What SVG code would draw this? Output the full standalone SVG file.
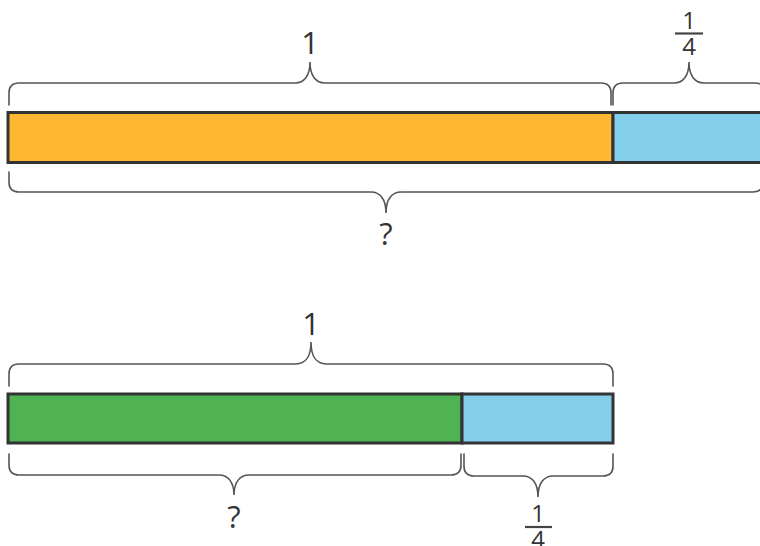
<svg xmlns="http://www.w3.org/2000/svg" width="760" height="546" viewBox="0 0 760 546">
<style>
.bar{stroke:#333;stroke-width:3}
.brace{fill:none;stroke:#555;stroke-width:1.6;stroke-linecap:round}
.t{font-family:"Open Sans","Noto Sans",sans-serif;fill:#333;text-anchor:middle}
.big{font-size:31px}
.frac{font-size:24px}
.fl{stroke:#444;stroke-width:2.2}
</style>
<rect width="760" height="546" fill="#fff"/>
<g id="bar1">
<rect id="bar1-orange" class="bar" x="8" y="112.5" width="605" height="50" fill="#FDB733"/>
<rect id="bar1-blue" class="bar" x="613" y="112.5" width="160" height="50" fill="#83CFEB"/>
</g>
<g id="bar2">
<rect id="bar2-green" class="bar" x="8" y="394" width="454" height="49" fill="#4FB253"/>
<rect id="bar2-blue" class="bar" x="462" y="394" width="151" height="49" fill="#83CFEB"/>
</g>
<g id="braces">
<path class="brace" d="M9,105 L9,93 Q9,83 19,83 L295,83 C304,83 310,76 310,62 C310,76 316,83 325,83 L601,83 Q611,83 611,93 L611,105"/>
<path class="brace" d="M613,105 L613,93 Q613,83 623,83 L674,83 C683,83 689,76 689,62 C689,76 695,83 704,83 L755,83 Q765,83 765,93 L765,105"/>
<path class="brace" d="M9,172 L9,182 Q9,192 19,192 L371,192 C380,192 386,199 386,213 C386,199 392,192 401,192 L753,192 Q763,192 763,182 L763,172"/>
<path class="brace" d="M9,386 L9,374 Q9,364 19,364 L296,364 C305,364 311,357 311,342 C311,357 317,364 326,364 L603,364 Q613,364 613,374 L613,386"/>
<path class="brace" d="M9,454 L9,465 Q9,475 19,475 L219,475 C228,475 234,482 234,495 C234,482 240,475 249,475 L451,475 Q461,475 461,465 L461,454"/>
<path class="brace" d="M464,454 L464,466 Q464,476 474,476 L523,476 C532,476 538,483 538,497 C538,483 544,476 553,476 L603,476 Q613,476 613,466 L613,454"/>
</g>
<g id="label-top-1"><text class="t big" x="310" y="54">1</text></g>
<g id="label-top-frac">
<text class="t frac" x="689" y="29">1</text>
<line class="fl" x1="675" y1="33.5" x2="703" y2="33.5"/>
<text class="t frac" x="689" y="55">4</text>
</g>
<g id="label-top-q"><text class="t big" x="386" y="245">?</text></g>
<g id="label-bot-1"><text class="t big" x="311" y="335">1</text></g>
<g id="label-bot-q"><text class="t big" x="234" y="528">?</text></g>
<g id="label-bot-frac">
<text class="t frac" x="538" y="522">1</text>
<line class="fl" x1="525" y1="527" x2="552" y2="527"/>
<text class="t frac" x="538" y="548">4</text>
</g>
</svg>
